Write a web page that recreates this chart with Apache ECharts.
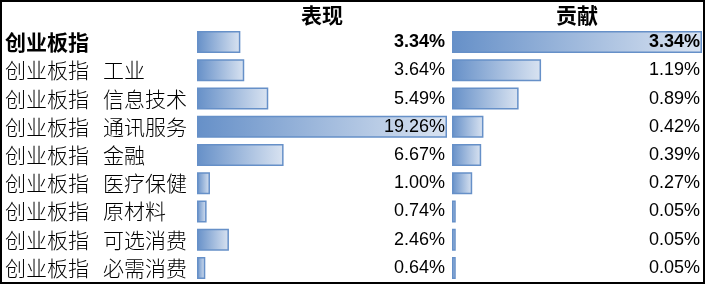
<!DOCTYPE html>
<html>
<head>
<meta charset="utf-8">
<script src="https://cdn.jsdelivr.net/npm/echarts@6/dist/echarts.min.js"></script>
<style>
html,body{margin:0;padding:0;background:#fff;}
#c{width:706px;height:285px;}
</style>
</head>
<body>
<div id="c"></div>
<script>
var categories = ['创业板指', '创业板指   工业', '创业板指   信息技术', '创业板指   通讯服务', '创业板指   金融', '创业板指   医疗保健', '创业板指   原材料', '创业板指   可选消费', '创业板指   必需消费'];
var perfValues = [3.34, 3.64, 5.49, 19.26, 6.67, 1.00, 0.74, 2.46, 0.64];
var contribValues = [3.34, 1.19, 0.89, 0.42, 0.39, 0.27, 0.05, 0.05, 0.05];
var headers = ['表现', '贡献'];

function pct(v){ return v.toFixed(2) + '%'; }
var perfLabels = perfValues.map(pct);
var contribLabels = contribValues.map(pct);

var cjkFont = '"Noto Sans CJK SC", "Noto Sans", sans-serif';
var numFont = '"Liberation Sans", Arial, sans-serif';

var grad = {
  type: 'linear', x: 0, y: 0, x2: 1, y2: 0,
  colorStops: [{offset: 0, color: '#6690c8'}, {offset: 1, color: '#d9e3f1'}]
};

function catAxis(grid, data, isLeft, showLabels) {
  var ax = {
    type: 'category', gridIndex: grid, data: data, inverse: true, z: 10,
    axisLine: {show: false}, axisTick: {show: false}, splitLine: {show: false}
  };
  if (!showLabels) { ax.axisLabel = {show: false}; return ax; }
  if (isLeft) {
    ax.position = 'left';
    ax.axisLabel = {
      align: 'left', margin: 192, fontSize: 21, color: '#000', fontFamily: cjkFont, fontWeight: 300,
      formatter: function(v, i){ return i === 0 ? '{b|' + v + '}' : v; },
      rich: {b: {fontSize: 21, fontWeight: 'bold', fontFamily: cjkFont, color: '#000'}}
    };
  } else {
    ax.position = 'right';
    ax.axisLabel = {
      inside: true, align: 'right', margin: 2, fontSize: 18, color: '#000', fontFamily: numFont,
      formatter: function(v, i){ return i === 0 ? '{b|' + v + '}' : v; },
      rich: {b: {fontSize: 18, fontWeight: 'bold', fontFamily: numFont, color: '#000'}}
    };
  }
  return ax;
}

function valAxis(grid, max, name) {
  return {
    type: 'value', gridIndex: grid, min: 0, max: max, position: 'top',
    axisLine: {show: false}, axisTick: {show: false}, axisLabel: {show: false}, splitLine: {show: false},
    name: name, nameLocation: 'middle', nameGap: 2,
    nameTextStyle: {fontSize: 21, fontWeight: 'bold', color: '#000', fontFamily: cjkFont}
  };
}

var option = {
  animation: false,
  backgroundColor: '#fff',
  grid: [
    {left: 197, top: 28, width: 250, height: 254},
    {left: 452, top: 28, width: 250, height: 254}
  ],
  xAxis: [
    valAxis(0, Math.max.apply(null, perfValues), headers[0]),
    valAxis(1, Math.max.apply(null, contribValues), headers[1])
  ],
  yAxis: [
    catAxis(0, categories, true, true),
    catAxis(0, perfLabels, false, true),
    catAxis(1, categories, true, false),
    catAxis(1, contribLabels, false, true)
  ],
  series: [
    {type: 'bar', xAxisIndex: 0, yAxisIndex: 0, data: perfValues, barWidth: 22,
     itemStyle: {color: grad, borderColor: '#6690c8', borderWidth: 1.5}, z: 1},
    {type: 'bar', xAxisIndex: 1, yAxisIndex: 2, data: contribValues, barWidth: 22,
     itemStyle: {color: grad, borderColor: '#6690c8', borderWidth: 1.5}, z: 1}
  ],
  graphic: [
    {type: 'rect', shape: {x: 1, y: 1, width: 703, height: 282}, style: {fill: null, stroke: '#000', lineWidth: 2}, z: 100}
  ]
};

var chart = echarts.init(document.getElementById('c'), null, {renderer: 'canvas'});
chart.setOption(option);
</script>
</body>
</html>
